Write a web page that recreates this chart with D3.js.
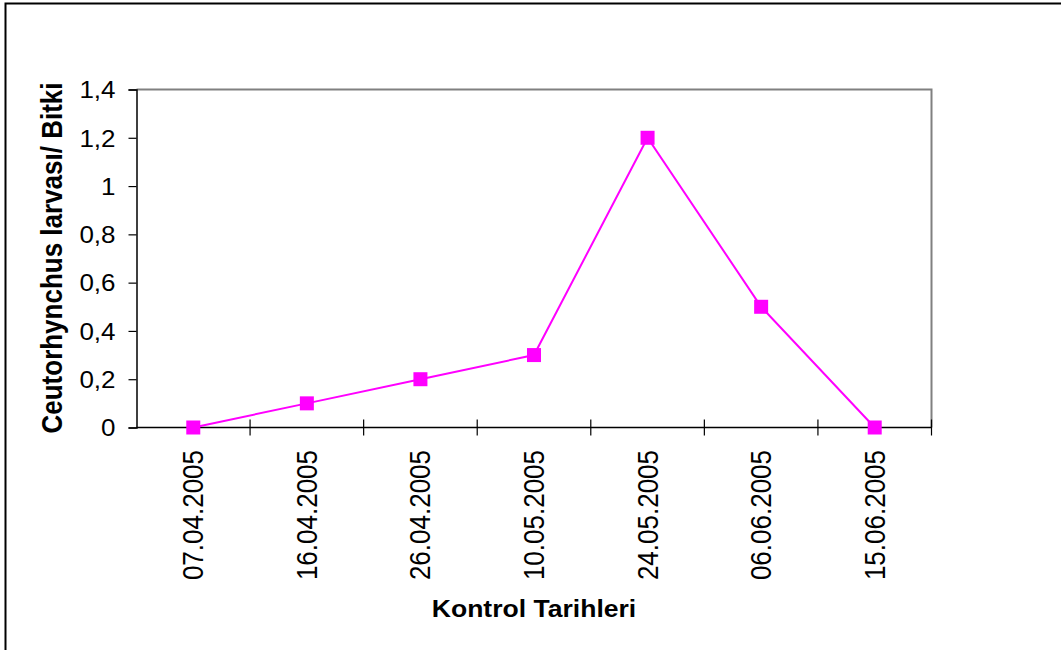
<!DOCTYPE html>
<html>
<head>
<meta charset="utf-8">
<script src="https://cdn.jsdelivr.net/npm/d3@7"></script>
<style>
  html, body { margin: 0; padding: 0; background: #fff; }
  svg { display: block; font-family: Arial, "Liberation Sans", sans-serif; }
</style>
</head>
<body>
<svg id="chart" width="1061" height="650"></svg>
<script>
// Sampling dates and larvae per plant
const dates = ["07.04.2005", "16.04.2005", "26.04.2005", "10.05.2005", "24.05.2005", "06.06.2005", "15.06.2005"];
const larvae = [0, 0.1, 0.2, 0.3, 1.2, 0.5, 0];
const yTicks = [0, 0.2, 0.4, 0.6, 0.8, 1, 1.2, 1.4];

const svg = d3.select("#chart");
const plot = { left: 136.5, right: 931.5, top: 89.5, bottom: 427.5 };
const sx = 1.13; // text is drawn slightly wide

// Outer chart frame (top and left edges visible)
svg.append("rect")
  .attr("x", 5.5).attr("y", 3.5)
  .attr("width", 1100).attr("height", 700)
  .attr("fill", "none").attr("stroke", "#000").attr("stroke-width", 2);

const x = d3.scaleBand().domain(dates).range([plot.left, plot.right]);
const y = d3.scaleLinear().domain([0, 1.4]).range([plot.bottom, plot.top]);
const fmt = d => String(d).replace(".", ",");

// Plot area border: grey top and right edges
svg.append("path")
  .attr("d", `M${plot.left},${plot.top}H${plot.right}V${plot.bottom}`)
  .attr("fill", "none").attr("stroke", "#808080").attr("stroke-width", 2);

// Y axis
const yAxis = svg.append("g")
  .attr("transform", `translate(${plot.left},0)`)
  .call(d3.axisLeft(y).tickValues(yTicks).tickFormat(fmt).tickSize(8));
yAxis.select(".domain").attr("stroke", "#000").attr("stroke-width", 1.5);
yAxis.selectAll(".tick line").attr("stroke", "#000").attr("stroke-width", 1.2);
yAxis.selectAll(".tick text")
  .attr("x", -21 / sx)
  .attr("dy", "0.36em")
  .attr("transform", `scale(${sx},1)`)
  .attr("font-size", 23).attr("fill", "#000")
  .attr("font-family", "Arial, 'Liberation Sans', sans-serif");

// X axis: baseline with ticks crossing at category boundaries
const xg = svg.append("g");
xg.append("line")
  .attr("x1", plot.left).attr("x2", plot.right)
  .attr("y1", plot.bottom).attr("y2", plot.bottom)
  .attr("stroke", "#000").attr("stroke-width", 1.5);
const boundaries = dates.map(d => x(d)).concat([x(dates[dates.length - 1]) + x.bandwidth()]);
xg.selectAll("line.tick")
  .data(boundaries.slice(1))
  .join("line")
  .attr("class", "tick")
  .attr("x1", d => d).attr("x2", d => d)
  .attr("y1", plot.bottom - 8).attr("y2", plot.bottom + 8)
  .attr("stroke", "#000").attr("stroke-width", 1.2);

// Rotated date labels
xg.selectAll("text.date")
  .data(dates)
  .join("text")
  .attr("class", "date")
  .attr("transform", d => `translate(${x(d) + x.bandwidth() / 2 + 10},450) scale(${sx},1) rotate(-90)`)
  .attr("text-anchor", "end")
  .attr("font-size", 26)
  .attr("fill", "#000")
  .text(d => d);

// Data line and square markers
const line = d3.line()
  .x((d, i) => x(dates[i]) + x.bandwidth() / 2)
  .y(d => y(d));
svg.append("path")
  .datum(larvae)
  .attr("d", line)
  .attr("fill", "none")
  .attr("stroke", "#FF00FF")
  .attr("stroke-width", 2);

const m = 14;
svg.selectAll("rect.marker")
  .data(larvae)
  .join("rect")
  .attr("class", "marker")
  .attr("x", (d, i) => x(dates[i]) + x.bandwidth() / 2 - m / 2)
  .attr("y", d => y(d) - m / 2)
  .attr("width", m).attr("height", m)
  .attr("fill", "#FF00FF");

// Axis titles
svg.append("text")
  .attr("transform", `translate(62,258) scale(${sx},1) rotate(-90)`)
  .attr("text-anchor", "middle")
  .attr("font-size", 26).attr("font-weight", "bold").attr("fill", "#000")
  .text("Ceutorhynchus larvası/ Bitki");

svg.append("text")
  .attr("transform", `translate(534,617) scale(${sx},1)`)
  .attr("text-anchor", "middle")
  .attr("font-size", 23.5).attr("font-weight", "bold").attr("fill", "#000")
  .text("Kontrol Tarihleri");
</script>
</body>
</html>
